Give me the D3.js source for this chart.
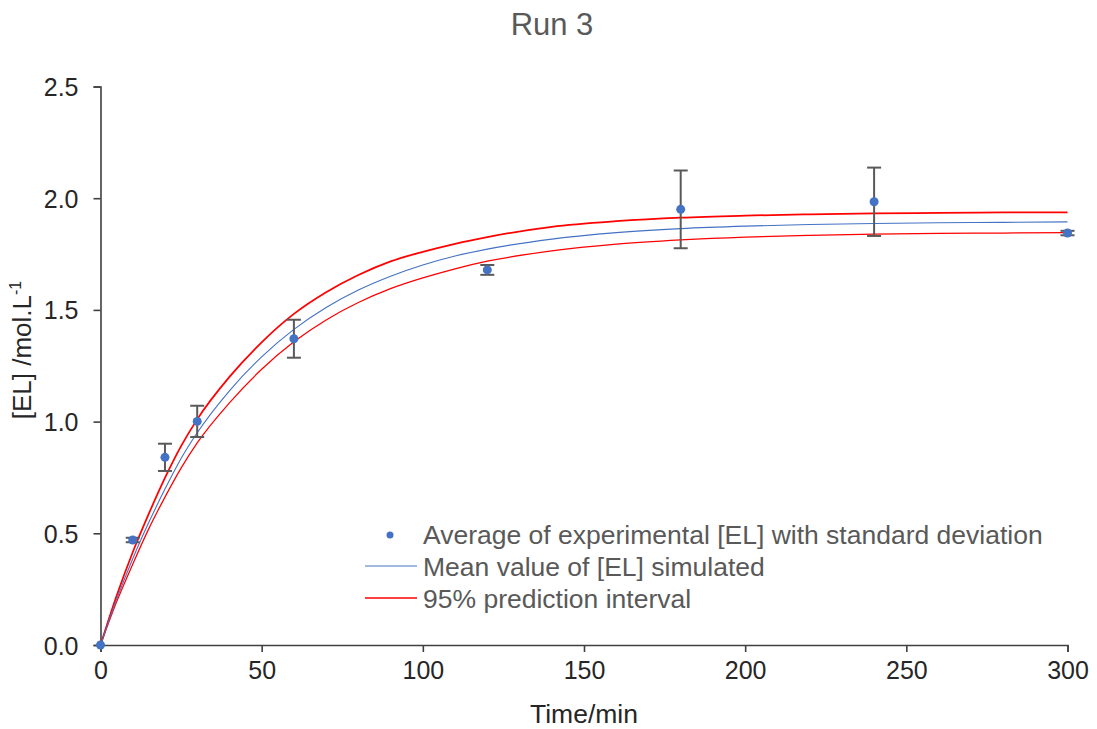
<!DOCTYPE html>
<html>
<head>
<meta charset="utf-8">
<script src="https://cdn.jsdelivr.net/npm/d3@7"></script>
<style>
  html, body { margin: 0; padding: 0; background: #fff; }
  svg { display: block; font-family: "Liberation Sans", Arial, sans-serif; }
</style>
</head>
<body>
<svg id="chart" width="1097" height="729"></svg>
<script>
// ---- Data ----
const expTime = [0, 10, 20, 30, 60, 120, 180, 240, 300];
const expMean = [0.0, 0.470, 0.840, 1.001, 1.371, 1.679, 1.950, 1.984, 1.844];
const expSD   = [0.0, 0.010, 0.061, 0.070, 0.085, 0.022, 0.174, 0.153, 0.010];

const simTime  = [0, 5, 10, 15, 20, 25, 30, 40, 50, 60, 70, 80, 90, 100, 110, 120, 140, 160, 180, 200, 220, 240, 260, 280, 300];
const simMean  = [0, 0.204, 0.386, 0.549, 0.698, 0.835, 0.950, 1.138, 1.290, 1.413, 1.511, 1.589, 1.651, 1.701, 1.741, 1.772, 1.817, 1.846, 1.864, 1.875, 1.882, 1.887, 1.890, 1.892, 1.894];
const simUpper = [0, 0.220, 0.415, 0.588, 0.748, 0.890, 1.010, 1.200, 1.355, 1.482, 1.579, 1.656, 1.717, 1.760, 1.796, 1.826, 1.872, 1.897, 1.913, 1.922, 1.928, 1.932, 1.934, 1.936, 1.937];
const simLower = [0, 0.193, 0.362, 0.521, 0.662, 0.792, 0.905, 1.084, 1.234, 1.357, 1.455, 1.533, 1.595, 1.643, 1.684, 1.718, 1.764, 1.794, 1.813, 1.826, 1.834, 1.839, 1.842, 1.844, 1.846];

const xTicks = [0, 50, 100, 150, 200, 250, 300];
const yTicks = [0, 0.5, 1.0, 1.5, 2.0, 2.5];

const titleText = "Run 3";
const xTitle = "Time/min";
const legendLabels = ["Average of experimental [EL] with standard deviation", "Mean value of [EL] simulated", "95% prediction interval"];

// ---- Drawing ----
const svg = d3.select("#chart");
const x = d3.scaleLinear().domain([0, 300]).range([100.5, 1067.5]);
const y = d3.scaleLinear().domain([0, 2.5]).range([645, 86.5]);

const axisColor = "#404040";
const textColor = "#595959";
const labelColor = "#262626";

// Title
svg.append("text").attr("x", 552).attr("y", 35).attr("text-anchor", "middle")
  .attr("font-size", 31).attr("fill", textColor).text(titleText);

// Axes
const xAxis = svg.append("g").attr("transform", `translate(0,${y(0)})`)
  .call(d3.axisBottom(x).tickValues(xTicks).tickSize(7).tickPadding(9).tickFormat(d3.format("d")));
const yAxis = svg.append("g").attr("transform", `translate(${x(0)},0)`)
  .call(d3.axisLeft(y).tickValues(yTicks).tickSize(7).tickPadding(15).tickFormat(d3.format(".1f")));
[xAxis, yAxis].forEach(g => {
  g.select(".domain").attr("stroke", axisColor).attr("stroke-width", 1.6);
  g.selectAll(".tick line").attr("stroke", axisColor).attr("stroke-width", 1.6);
  g.selectAll(".tick text").attr("font-size", 25).attr("fill", labelColor)
    .attr("font-family", "'Liberation Sans', Arial, sans-serif");
});
yAxis.selectAll(".tick text").attr("dy", "0.36em");

// Axis titles
svg.append("text").attr("x", 584).attr("y", 723).attr("text-anchor", "middle")
  .attr("font-size", 26.5).attr("fill", labelColor).text(xTitle);
const yt = svg.append("text").attr("transform", "translate(31,350) rotate(-90)")
  .attr("text-anchor", "middle").attr("font-size", 26).attr("fill", labelColor);
yt.append("tspan").text("[EL] /mol.L");
yt.append("tspan").attr("font-size", 16).attr("dy", -10).text("-1");

// Lines
const line = (vals) => d3.line().x((d, i) => x(simTime[i])).y(d => y(d)).curve(d3.curveMonotoneX)(vals);
svg.append("path").attr("d", line(simLower)).attr("fill", "none").attr("stroke", "#FF0000").attr("stroke-width", 1.25);
svg.append("path").attr("d", line(simUpper)).attr("fill", "none").attr("stroke", "#FF0000").attr("stroke-width", 1.75);
svg.append("path").attr("d", line(simMean)).attr("fill", "none").attr("stroke", "#4472C4").attr("stroke-width", 1.1);

// Error bars
const eb = svg.append("g").attr("stroke", "#595959").attr("stroke-width", 2);
expTime.forEach((t, i) => {
  const cx = x(t), top = y(expMean[i] + expSD[i]), bot = y(expMean[i] - expSD[i]);
  if (expSD[i] <= 0) return;
  eb.append("line").attr("x1", cx).attr("x2", cx).attr("y1", top).attr("y2", bot);
  eb.append("line").attr("x1", cx - 7).attr("x2", cx + 7).attr("y1", top).attr("y2", top);
  eb.append("line").attr("x1", cx - 7).attr("x2", cx + 7).attr("y1", bot).attr("y2", bot);
});

// Points
svg.append("g").selectAll("circle").data(expTime).join("circle")
  .attr("cx", d => x(d)).attr("cy", (d, i) => y(expMean[i])).attr("r", 4.5).attr("fill", "#4472C4");

// Legend
const lg = svg.append("g");
lg.append("circle").attr("cx", 390).attr("cy", 535).attr("r", 3.5).attr("fill", "#4472C4");
lg.append("line").attr("x1", 365).attr("x2", 417).attr("y1", 566).attr("y2", 566).attr("stroke", "#4472C4").attr("stroke-width", 1.2);
lg.append("line").attr("x1", 365).attr("x2", 417).attr("y1", 598).attr("y2", 598).attr("stroke", "#FF0000").attr("stroke-width", 1.5);
legendLabels.forEach((t, i) => {
  lg.append("text").attr("x", 423).attr("y", 544 + i * 32).attr("font-size", 26.5).attr("fill", textColor).text(t);
});
</script>
</body>
</html>
